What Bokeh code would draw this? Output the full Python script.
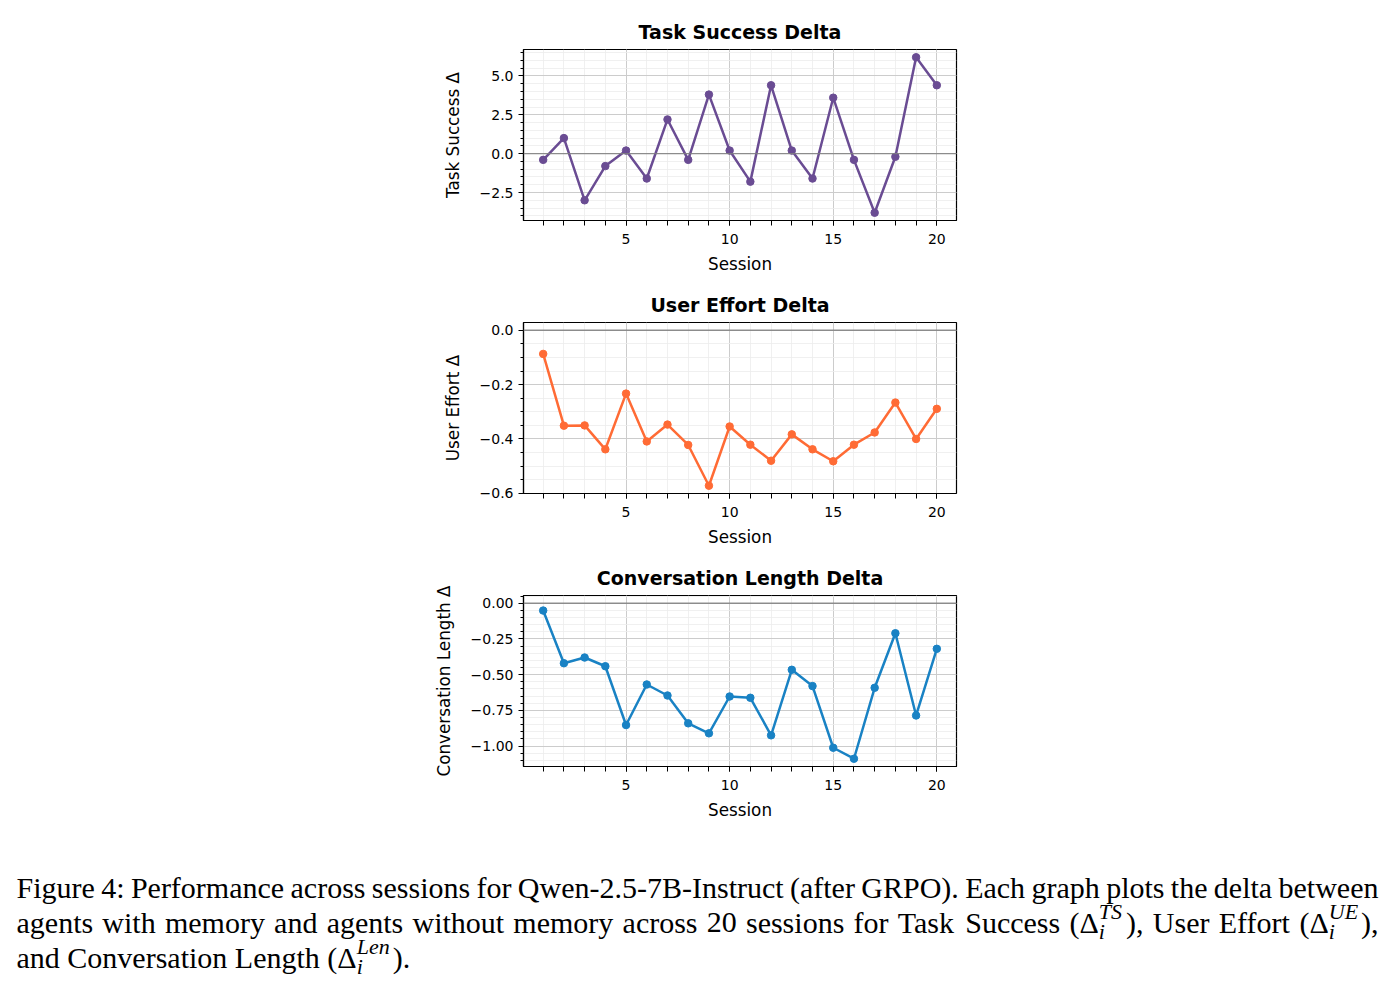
import re

import numpy as np
from bokeh.embed import file_html
from bokeh.layouts import column
from bokeh.models import CustomJSTickFormatter, FixedTicker, Label, Range1d, Span
from bokeh.plotting import figure
from bokeh.resources import INLINE

# ---- data -----------------------------------------------------------------
sessions = list(range(1, 21))

task_success = [-0.4, 1.0, -3.0, -0.8, 0.2, -1.6, 2.2, -0.4, 3.8, 0.2,
                -1.8, 4.4, 0.2, -1.6, 3.6, -0.4, -3.8, -0.2, 6.2, 4.4]
user_effort = [-0.087, -0.351, -0.350, -0.438, -0.233, -0.409, -0.347, -0.422,
               -0.572, -0.354, -0.421, -0.480, -0.383, -0.438, -0.482, -0.421,
               -0.376, -0.266, -0.400, -0.289]
conv_length = [-0.051, -0.420, -0.380, -0.441, -0.853, -0.569, -0.646, -0.841,
               -0.911, -0.653, -0.662, -0.925, -0.466, -0.580, -1.012, -1.089,
               -0.592, -0.210, -0.786, -0.319]

session_ticks = [5, 10, 15, 20]
session_tick_labels = ["5", "10", "15", "20"]

ts_ticks = [-2.5, 0.0, 2.5, 5.0]
ts_tick_labels = ["\u22122.5", "0.0", "2.5", "5.0"]
ue_ticks = [-0.6, -0.4, -0.2, 0.0]
ue_tick_labels = ["\u22120.6", "\u22120.4", "\u22120.2", "0.0"]
cl_ticks = [-1.0, -0.75, -0.5, -0.25, 0.0]
cl_tick_labels = ["\u22121.00", "\u22120.75", "\u22120.50", "\u22120.25", "0.00"]

caption_lines = [
    "Figure 4: Performance across sessions for Qwen-2.5-7B-Instruct (after GRPO). Each graph plots the delta between",
    "agents with memory and agents without memory across 20 sessions for Task Success (\u0394_i^{TS}), User Effort (\u0394_i^{UE}),",
    "and Conversation Length (\u0394_i^{Len}).",
]

PURPLE = "#6a4c93"
ORANGE = "#ff6b35"
BLUE = "#1982c4"
FONT = "DejaVu Sans"

# shared geometry of the stacked panels (pixels)
LEFT_BORDER, FRAME_W, RIGHT_BORDER = 523, 433, 439
FRAME_H = 171
PAGE_W = LEFT_BORDER + FRAME_W + RIGHT_BORDER


def tick_formatter(values, labels):
    return CustomJSTickFormatter(args=dict(tick_values=values, tick_labels=labels), code="""
        for (let i = 0; i < tick_values.length; i++) {
            if (Math.abs(tick_values[i] - tick) < 1e-9) { return tick_labels[i] }
        }
        return ""
    """)


def panel(title, ylabel, vals, color, yticks, ylabels, ystep, top):
    lo, hi = min(min(vals), 0.0), max(max(vals), 0.0)
    pad = 0.05 * (hi - lo)
    xpad = 0.05 * (sessions[-1] - sessions[0])
    y0, y1 = lo - pad, hi + pad

    p = figure(frame_width=FRAME_W, frame_height=FRAME_H,
               x_range=Range1d(sessions[0] - xpad, sessions[-1] + xpad),
               y_range=Range1d(y0, y1),
               min_border_left=LEFT_BORDER, min_border_right=RIGHT_BORDER,
               min_border_top=top, min_border_bottom=57,
               output_backend="svg", toolbar_location=None,
               background_fill_color="white", border_fill_color="white")

    yminor = [round(v, 6) for v in np.arange(np.ceil(y0 / ystep) * ystep, y1, ystep)]
    p.xaxis.ticker = FixedTicker(ticks=session_ticks, minor_ticks=sessions)
    p.xaxis.formatter = tick_formatter(session_ticks, session_tick_labels)
    p.yaxis.ticker = FixedTicker(ticks=yticks, minor_ticks=yminor)
    p.yaxis.formatter = tick_formatter(yticks, ylabels)

    p.title.text = title
    p.title.align = "center"
    p.title.text_font = FONT
    p.title.text_font_style = "bold"
    p.title.text_font_size = "19px"
    p.title.text_color = "black"
    p.title.standoff = 14

    p.xaxis.axis_label = "Session"
    p.yaxis.axis_label = ylabel
    for ax in p.axis:
        ax.axis_line_color = "black"
        ax.axis_line_width = 1.2
        ax.major_tick_line_color = "black"
        ax.minor_tick_line_color = "black"
        ax.major_tick_in = 0
        ax.minor_tick_in = 0
        ax.major_tick_out = 5
        ax.major_label_text_font = FONT
        ax.major_label_text_font_size = "14px"
        ax.major_label_text_color = "black"
        ax.axis_label_text_font = FONT
        ax.axis_label_text_font_size = "16.8px"
        ax.axis_label_text_font_style = "normal"
        ax.axis_label_text_color = "black"
    p.xaxis.minor_tick_out = 5
    p.yaxis.minor_tick_out = 3
    p.xaxis.major_label_standoff = 8
    p.yaxis.major_label_standoff = 5
    p.xaxis.axis_label_standoff = 7
    p.yaxis.axis_label_standoff = 14

    p.outline_line_color = "black"
    p.outline_line_width = 1.2
    for g in (p.xgrid, p.ygrid):
        g.grid_line_color = "#cccccc"
        g.grid_line_width = 1
        g.minor_grid_line_color = "#ececec"
        g.minor_grid_line_width = 0.8

    p.add_layout(Span(location=0, dimension="width", line_color="#808080",
                      line_width=1.3, line_alpha=0.85))
    p.line(sessions, vals, line_color=color, line_width=2.5)
    p.scatter(sessions, vals, size=7.5, fill_color=color, line_color=color)
    return p


p1 = panel("Task Success Delta", "Task Success \u0394", task_success, PURPLE,
           ts_ticks, ts_tick_labels, 0.5, top=49)
p2 = panel("User Effort Delta", "User Effort \u0394", user_effort, ORANGE,
           ue_ticks, ue_tick_labels, 0.05, top=45)
p3 = panel("Conversation Length Delta", "Conversation Length \u0394", conv_length, BLUE,
           cl_ticks, cl_tick_labels, 0.05, top=45)

# ---- caption, set in Times-metric serif with justified lines ----------------
ROMAN = {
    " ": .25, "a": .444, "b": .5, "c": .444, "d": .5, "e": .444, "f": .333, "g": .5,
    "h": .5, "i": .278, "j": .278, "k": .5, "l": .278, "m": .778, "n": .5, "o": .5,
    "p": .5, "q": .5, "r": .333, "s": .389, "t": .278, "u": .5, "v": .5, "w": .722,
    "x": .5, "y": .5, "z": .444, "B": .667, "C": .667, "E": .611, "F": .556,
    "G": .722, "I": .333, "L": .611, "O": .722, "P": .556, "Q": .722, "R": .667,
    "S": .556, "T": .611, "U": .722, "0": .5, "1": .5, "2": .5, "4": .5, "5": .5,
    "7": .5, ":": .278, "-": .333, ".": .25, ",": .25, "(": .333, ")": .333,
    "\u0394": .612,
}
# advance widths of the italic script letters, including their slant overhang
SCRIPT_ITALIC = {"T": .64, "S": .58, "U": .76, "E": .68, "L": .62, "e": .46,
                 "n": .54, "i": .32}
CAP_SIZE = 30
SCRIPT_SIZE = 22
LEFT, RIGHT = 16, 1378
BASELINES = [887, 922, 957]
CAP_TOP, CAP_BOTTOM = 823, 988
MATH = re.compile(r"^(.*\u0394)_(\w+)\^\{(\w+)\}(.*)$")


def width(s, table, size):
    return sum(table.get(c, 0.5) for c in s) * size


def layout_word(w):
    m = MATH.match(w)
    if not m:
        return [(0.0, 0.0, w, "r")], width(w, ROMAN, CAP_SIZE)
    pre, sub, sup, post = m.groups()
    x0 = width(pre, ROMAN, CAP_SIZE)
    x1 = x0 + max(width(sub, SCRIPT_ITALIC, SCRIPT_SIZE),
                  width(sup, SCRIPT_ITALIC, SCRIPT_SIZE)) + 1.5
    runs = [(0.0, 0.0, pre, "r"), (x0 + 1.0, -11.0, sup, "i"),
            (x0 + 1.0, 9.0, sub, "i"), (x1, 0.0, post, "r")]
    return runs, x1 + width(post, ROMAN, CAP_SIZE)


# caption canvas: the frame spans the whole page width, so data units are page pixels
cap = figure(width=PAGE_W, height=CAP_BOTTOM - CAP_TOP, min_border=0,
             x_range=Range1d(0, PAGE_W), y_range=Range1d(CAP_BOTTOM, CAP_TOP),
             x_axis_location=None, y_axis_location=None,
             output_backend="svg", toolbar_location=None,
             background_fill_color="white", border_fill_color="white")
cap.grid.visible = False
cap.outline_line_color = None
if "frame_align" in cap.properties():
    cap.frame_align = False

for k, line in enumerate(caption_lines):
    words = [layout_word(w) for w in line.split(" ")]
    total = sum(wd for _, wd in words)
    justify = k < len(caption_lines) - 1
    gap = (RIGHT - LEFT - total) / (len(words) - 1) if justify else ROMAN[" "] * CAP_SIZE
    x = LEFT
    for runs, wd in words:
        for dx, dy, t, style in runs:
            cap.add_layout(Label(
                x=x + dx, y=BASELINES[k] + dy, text=t,
                text_font="Liberation Serif",
                text_font_size=f"{CAP_SIZE if style == 'r' else SCRIPT_SIZE}px",
                text_font_style="normal" if style == "r" else "italic",
                text_color="black", text_baseline="alphabetic", text_align="left"))
        x += wd + gap

panels = column(p1, p2, p3, spacing=0)
with open("out.html", "w") as f:
    f.write(file_html([panels, cap], INLINE))
